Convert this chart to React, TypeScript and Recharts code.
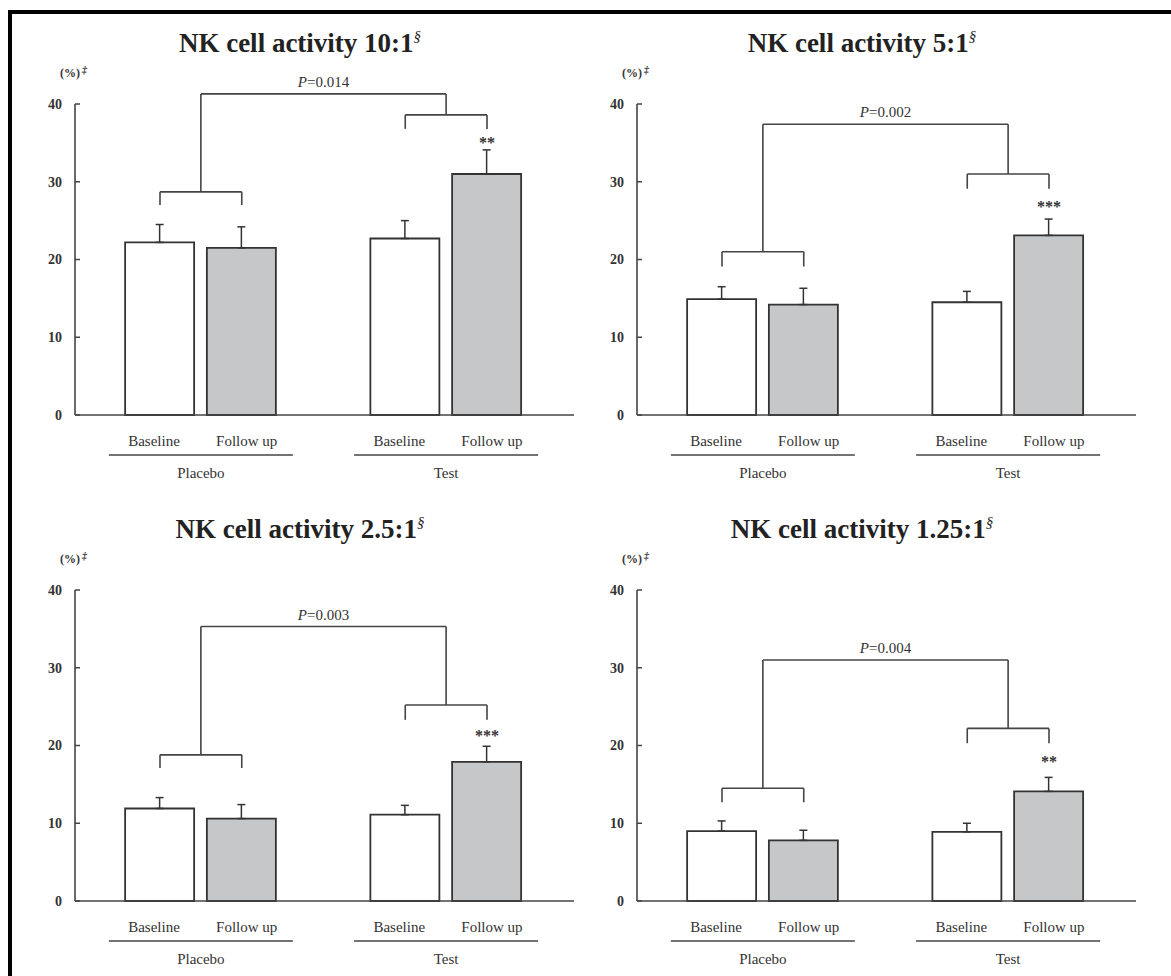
import React from 'react';
import { BarChart, Bar, XAxis, YAxis, Cell, ErrorBar, ReferenceLine, ReferenceDot } from 'recharts';

// ---------- data ----------
const categories = ['Baseline', 'Follow up', 'Baseline', 'Follow up'];
const positions = [1, 2, 4, 5];
const groups = ['Placebo', 'Test'];
const groupPositions = [1.5, 4.5];
const yTicks = [0, 10, 20, 30, 40];

const titles = ['NK cell activity 10:1', 'NK cell activity 5:1', 'NK cell activity 2.5:1', 'NK cell activity 1.25:1'];

const values10 = [22.2, 21.5, 22.7, 31.0];
const errors10 = [2.3, 2.7, 2.3, 3.1];
const values5 = [14.9, 14.2, 14.5, 23.1];
const errors5 = [1.6, 2.1, 1.4, 2.1];
const values25 = [11.9, 10.6, 11.1, 17.9];
const errors25 = [1.4, 1.8, 1.2, 2.0];
const values125 = [9.0, 7.8, 8.9, 14.1];
const errors125 = [1.3, 1.3, 1.1, 1.8];

const allValues = [values10, values5, values25, values125];
const allErrors = [errors10, errors5, errors25, errors125];

const pValues = ['0.014', '0.002', '0.003', '0.004'];
const stars = ['**', '***', '***', '**'];
const starLevels = [35.4, 27.1, 21.6, 18.2];
const placeboBracket = [28.7, 21.0, 18.8, 14.5];
const placeboLeg = [27.0, 19.1, 17.1, 12.7];
const testBracket = [38.6, 31.0, 25.2, 22.2];
const testLeg = [36.8, 29.1, 23.3, 20.3];
const topLine = [41.3, 37.4, 35.3, 31.0];

// ---------- styles ----------
const SERIF = "'Liberation Serif', 'Times New Roman', serif";
const INK = '#333333';
const LINE = '#444444';
const GRAY = '#c5c7c9';
const W = 590;
const H = 488;

const YTick = (props: any) => {
  const { x, y, payload } = props;
  return (
    <g>
      <line x1={x} x2={x + 5} y1={y} y2={y} stroke={LINE} strokeWidth={1.5} />
      <text x={x - 13} y={y} dy="0.35em" textAnchor="end" fontFamily={SERIF} fontWeight="bold" fontSize={14} fill={INK}>
        {payload.value}
      </text>
    </g>
  );
};

const CatTick = (props: any) => {
  const { x, y, payload } = props;
  const i = positions.indexOf(payload.value);
  const label = categories[i];
  const dx = label === 'Baseline' ? -6 : 5;
  return (
    <text x={x + dx} y={y + 31} textAnchor="middle" fontFamily={SERIF} fontSize={15} fill={INK}>
      {label}
    </text>
  );
};

const GroupTick = (props: any) => {
  const { x, y, payload } = props;
  const i = groupPositions.indexOf(payload.value);
  return (
    <g>
      <line x1={x - 92} x2={x + 92} y1={y + 10} y2={y + 10} stroke={LINE} strokeWidth={1.6} />
      <text x={x} y={y + 33} textAnchor="middle" fontFamily={SERIF} fontSize={15} fill={INK}>
        {groups[i]}
      </text>
    </g>
  );
};

function Panel({ idx, left, top }: { idx: number; left: number; top: number }) {
  const values = allValues[idx];
  const errors = allErrors[idx];
  const data = positions.map((x, i) => ({ x, v: values[i], e: [0, errors[i]], cat: categories[i] }));
  const seg = (x1: number, y1: number, x2: number, y2: number, key: string) => (
    <ReferenceLine
      key={key}
      xAxisId="cat"
      segment={[{ x: x1, y: y1 }, { x: x2, y: y2 }]}
      stroke={LINE}
      strokeWidth={1.6}
      ifOverflow="visible"
    />
  );
  const pb = placeboBracket[idx];
  const pl = placeboLeg[idx];
  const tb = testBracket[idx];
  const tl = testLeg[idx];
  const top_ = topLine[idx];
  return (
    <div style={{ position: 'absolute', left, top, width: W, height: H }}>
      <svg style={{ position: 'absolute', left: 0, top: 0 }} width={W} height={H}>
        <text x={300} y={52} textAnchor="middle" fontFamily={SERIF} fontWeight="bold" fontSize={27} fill="#222">
          {titles[idx]}
          <tspan dy={-11} fontSize={15} fontStyle="italic" fontWeight="normal">§</tspan>
        </text>
        <text x={60} y={77} fontFamily={SERIF} fontWeight="bold" fontSize={12} fill={INK}>
          (%)
          <tspan dx={2} dy={-4} fontSize={10} fontStyle="italic">‡</tspan>
        </text>
      </svg>
      <div style={{ position: 'absolute', left: 0, top: 0 }}>
        <BarChart width={W} height={H} data={data} margin={{ top: 104, right: 16, bottom: 3, left: 35 }}>
          <XAxis
            xAxisId="cat"
            type="number"
            dataKey="x"
            domain={[1, 5]}
            ticks={positions}
            interval={0}
            padding={{ left: 85, right: 87 }}
            height={30}
            tickSize={0}
            tickMargin={0}
            tickLine={false}
            axisLine={{ stroke: LINE, strokeWidth: 1.6 }}
            tick={<CatTick />}
          />
          <XAxis
            xAxisId="grp"
            type="number"
            dataKey="x"
            domain={[1, 5]}
            ticks={groupPositions}
            interval={0}
            padding={{ left: 85, right: 87 }}
            height={40}
            tickSize={0}
            tickMargin={0}
            tickLine={false}
            axisLine={false}
            tick={<GroupTick />}
          />
          <YAxis
            type="number"
            domain={[0, 40]}
            ticks={yTicks}
            interval={0}
            width={40}
            tickSize={0}
            tickMargin={0}
            tickLine={false}
            axisLine={{ stroke: LINE, strokeWidth: 1.6 }}
            tick={<YTick />}
          />
          <Bar xAxisId="cat" dataKey="v" barSize={69} stroke={INK} strokeWidth={1.8} isAnimationActive={false}>
            {data.map((d, i) => (
              <Cell key={i} fill={d.cat === 'Baseline' ? '#ffffff' : GRAY} />
            ))}
            <ErrorBar dataKey="e" width={4} stroke={INK} strokeWidth={1.5} direction="y" />
          </Bar>
          {seg(1, pb, 2, pb, 'pb')}
          {seg(1, pl, 1, pb, 'pl1')}
          {seg(2, pl, 2, pb, 'pl2')}
          {seg(4, tb, 5, tb, 'tb')}
          {seg(4, tl, 4, tb, 'tl1')}
          {seg(5, tl, 5, tb, 'tl2')}
          {seg(1.5, pb, 1.5, top_, 'pc')}
          {seg(4.5, tb, 4.5, top_, 'tc')}
          {seg(1.5, top_, 4.5, top_, 'top')}
          <ReferenceDot
            xAxisId="cat"
            x={3}
            y={top_}
            r={0}
            fill="none"
            stroke="none"
            ifOverflow="visible"
            label={(p: any) => {
              const vb = p.viewBox || {};
              const cx = (vb.x || 0) + (vb.width || 0) / 2;
              return (
                <text x={cx} y={(vb.y || 0) - 7} textAnchor="middle" fontFamily={SERIF} fontSize={15} fill={INK}>
                  <tspan fontStyle="italic">P</tspan>
                  <tspan>={pValues[idx]}</tspan>
                </text>
              );
            }}
          />
          <ReferenceDot
            xAxisId="cat"
            x={5}
            y={starLevels[idx]}
            r={0}
            fill="none"
            stroke="none"
            ifOverflow="visible"
            label={(p: any) => {
              const vb = p.viewBox || {};
              const cx = (vb.x || 0) + (vb.width || 0) / 2;
              return (
                <text x={cx} y={(vb.y || 0) + 8} textAnchor="middle" fontFamily={SERIF} fontWeight="bold" fontSize={16} fill={INK}>
                  {stars[idx]}
                </text>
              );
            }}
          />
        </BarChart>
      </div>
    </div>
  );
}

export default function App() {
  return (
    <div style={{ position: 'absolute', left: 0, top: 0, width: 1171, height: 976, background: '#ffffff', overflow: 'hidden' }}>
      <div
        style={{
          position: 'absolute',
          left: 8,
          top: 10,
          width: 1171 - 8,
          height: 976 - 10,
          borderLeft: '4px solid #000',
          borderTop: '4px solid #000',
          boxSizing: 'border-box',
        }}
      />
      <Panel idx={0} left={0} top={0} />
      <Panel idx={1} left={562} top={0} />
      <Panel idx={2} left={0} top={486} />
      <Panel idx={3} left={562} top={486} />
    </div>
  );
}
